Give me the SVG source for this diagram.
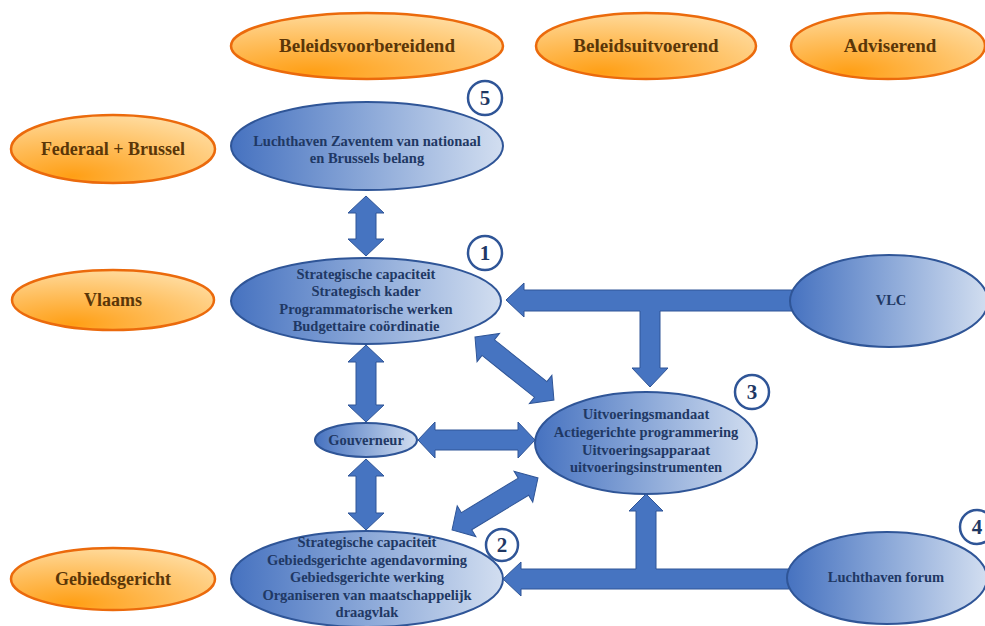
<svg xmlns="http://www.w3.org/2000/svg" width="985" height="626" viewBox="0 0 985 626">
<defs>
<linearGradient id="bg" x1="0" y1="0" x2="1" y2="0">
<stop offset="0" stop-color="#4672c0"/>
<stop offset="0.5" stop-color="#8ba8d8"/>
<stop offset="1" stop-color="#d2def0"/>
</linearGradient>
<radialGradient id="og" cx="0.3" cy="0.9" r="0.95">
<stop offset="0" stop-color="#ff9f15"/>
<stop offset="0.5" stop-color="#ffbd5a"/>
<stop offset="1" stop-color="#ffdca0"/>
</radialGradient>
<style>
.b{fill:url(#bg);stroke:#2f5597;stroke-width:2}
.o{fill:url(#og);stroke:#eb6a0c;stroke-width:2.5}
.bt{font-family:"Liberation Serif","Times New Roman",serif;font-weight:bold;font-size:14.5px;fill:#1f3864;text-anchor:middle}
.ot{font-family:"Liberation Serif","Times New Roman",serif;font-weight:bold;font-size:18px;fill:#5a3608;text-anchor:middle}
.tt{font-size:19px}
.ar{fill:#4674c1;stroke:#2f5597;stroke-width:1}
.nc{fill:#fff;stroke:#2f5597;stroke-width:2.5}
.nt{font-family:"Liberation Serif","Times New Roman",serif;font-weight:bold;font-size:21px;fill:#1f3864;text-anchor:middle}
</style>
</defs>
<g id="cat-beleidsvoorbereidend"><ellipse class="o" cx="367" cy="46" rx="136" ry="33"/><text class="ot tt" x="367" y="52">Beleidsvoorbereidend</text></g>
<g id="cat-beleidsuitvoerend"><ellipse class="o" cx="646" cy="46" rx="110" ry="33"/><text class="ot tt" x="646" y="52">Beleidsuitvoerend</text></g>
<g id="cat-adviserend"><ellipse class="o" cx="888" cy="46" rx="97" ry="33"/><text class="ot tt" x="890" y="52">Adviserend</text></g>
<g id="lvl-federaal"><ellipse class="o" cx="113" cy="149" rx="102" ry="34"/><text class="ot" x="113" y="155">Federaal + Brussel</text></g>
<g id="lvl-vlaams"><ellipse class="o" cx="113" cy="300" rx="101" ry="30"/><text class="ot" x="113" y="306">Vlaams</text></g>
<g id="lvl-gebiedsgericht"><ellipse class="o" cx="113" cy="579" rx="102" ry="31"/><text class="ot" x="113" y="585">Gebiedsgericht</text></g>
<g id="connectors">
<path class="ar" d="M0,0 L17,-18 L17,-10 L43,-10 L43,-18 L60,0 L43,18 L43,10 L17,10 L17,18 Z" transform="translate(366,196) rotate(90)"/>
<path class="ar" d="M0,0 L17,-18 L17,-10 L60,-10 L60,-18 L77,0 L60,18 L60,10 L17,10 L17,18 Z" transform="translate(366,345) rotate(90)"/>
<path class="ar" d="M0,0 L17,-18 L17,-10 L54,-10 L54,-18 L71,0 L54,18 L54,10 L17,10 L17,18 Z" transform="translate(366,459) rotate(90)"/>
<path class="ar" d="M0,0 L17,-18 L17,-10 L100,-10 L100,-18 L117,0 L100,18 L100,10 L17,10 L17,18 Z" transform="translate(418,440)"/>
<path class="ar" d="M0,0 L17,-18 L17,-10 L84,-10 L84,-18 L101,0 L84,18 L84,10 L17,10 L17,18 Z" transform="translate(475,337) rotate(38.6)"/>
<path class="ar" d="M0,0 L17,-18 L17,-10 L83.5,-10 L83.5,-18 L100.5,0 L83.5,18 L83.5,10 L17,10 L17,18 Z" transform="translate(452,530) rotate(-31.2)"/>
<path class="ar" d="M506,300 L524,283 L524,290 L792,290 L792,311 L660,311 L660,368 L668,368 L650,387 L632,368 L640,368 L640,311 L524,311 L524,317 Z"/>
<path class="ar" d="M503,579 L521,562 L521,569 L636,569 L636,511 L629,511 L646,494 L663,511 L656,511 L656,569 L789,569 L789,589 L521,589 L521,596 Z"/>
</g>
<g id="node5"><ellipse class="b" cx="367" cy="146" rx="136" ry="44"/><text class="bt" x="367" y="146">Luchthaven Zaventem van nationaal</text><text class="bt" x="367" y="163">en Brussels belang</text></g>
<g id="node1"><ellipse class="b" cx="366" cy="301" rx="135" ry="43"/><text class="bt" x="366" y="279">Strategische capaciteit</text><text class="bt" x="366" y="296">Strategisch kader</text><text class="bt" x="366" y="314">Programmatorische werken</text><text class="bt" x="366" y="331">Budgettaire coördinatie</text></g>
<g id="gouverneur"><ellipse class="b" cx="366" cy="440" rx="51" ry="17"/><text class="bt" x="366" y="445">Gouverneur</text></g>
<g id="node3"><ellipse class="b" cx="646" cy="443" rx="111" ry="51"/><text class="bt" x="646" y="419">Uitvoeringsmandaat</text><text class="bt" x="646" y="437">Actiegerichte programmering</text><text class="bt" x="646" y="455">Uitvoeringsapparaat</text><text class="bt" x="646" y="472">uitvoeringsinstrumenten</text></g>
<g id="node2"><ellipse class="b" cx="367" cy="579" rx="136" ry="48"/><text class="bt" x="367" y="547">Strategische capaciteit</text><text class="bt" x="367" y="565">Gebiedsgerichte agendavorming</text><text class="bt" x="367" y="582">Gebiedsgerichte werking</text><text class="bt" x="367" y="600">Organiseren van maatschappelijk</text><text class="bt" x="367" y="617">draagvlak</text></g>
<g id="vlc"><ellipse class="b" cx="889" cy="301" rx="99" ry="46"/><text class="bt" x="891" y="305">VLC</text></g>
<g id="forum"><ellipse class="b" cx="887" cy="578" rx="100" ry="46"/><text class="bt" x="886" y="582">Luchthaven forum</text></g>
<g id="num5"><circle class="nc" cx="485" cy="98" r="17"/><text class="nt" x="485" y="105">5</text></g>
<g id="num1"><circle class="nc" cx="485" cy="253" r="17"/><text class="nt" x="485" y="260">1</text></g>
<g id="num3"><circle class="nc" cx="752" cy="392" r="17"/><text class="nt" x="752" y="399">3</text></g>
<g id="num2"><circle class="nc" cx="502" cy="545" r="16"/><text class="nt" x="502" y="552">2</text></g>
<g id="num4"><circle class="nc" cx="977" cy="527" r="17"/><text class="nt" x="977" y="534">4</text></g>
</svg>
